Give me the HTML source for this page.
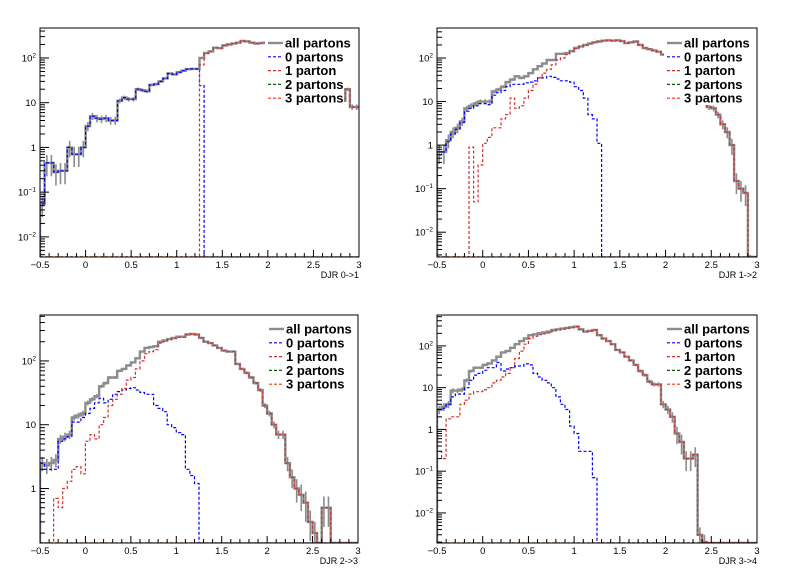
<!DOCTYPE html>
<html><head><meta charset="utf-8">
<style>
html,body{margin:0;padding:0;background:#fff;}
svg{display:block;font-family:"Liberation Sans",Arial,sans-serif;}
</style></head>
<body>
<svg id="c" width="796" height="572" viewBox="0 0 796 572" xmlns="http://www.w3.org/2000/svg"></svg>
<script>
// Bins: 70 bins of width 0.05 from -0.5 to 3.0
const binLow = -0.5, binWidth = 0.05;
const categories = ["DJR 0->1","DJR 1->2","DJR 2->3","DJR 3->4"];
const legendLabels = ["all partons","0 partons","1 parton","2 partons","3 partons"];
const xTickLabels = ["-0.5","0","0.5","1","1.5","2","2.5","3"];

const all01 = [0.055,0.45,0.45,0.28,0.3,0.3,1.0,0.7,0.7,1.0,3,5,4.5,4.3,4.5,4,4,11,13,12,12,20,19,18,25,26,30,35,45,43,48,52,56,57,57,100,130,140,170,165,190,200,210,220,240,235,220,210,215,220,200,190,170,150,130,110,90,75,60,48,38,30,25,20,16,13,11,20,8,8];
const p0_01 = [0.055,0.45,0.45,0.28,0.3,0.3,1.0,0.7,0.7,1.0,3,5,4.5,4.3,4.5,4,4,11,13,12,12,20,19,18,25,26,30,35,45,43,48,52,56,57,57,24,0,0,0,0,0,0,0,0,0,0,0,0,0,0,0,0,0,0,0,0,0,0,0,0,0,0,0,0,0,0,0,0,0,0];
const p1_01 = [0,0,0,0,0,0,0,0,0,0,0,0,0,0,0,0,0,0,0,0,0,0,0,0,0,0,0,0,0,0,0,0,0,0,0,70,125,140,170,165,190,200,210,220,240,235,220,210,215,220,200,190,170,150,130,110,90,75,60,48,38,30,25,20,16,13,11,20,8,8];

const all12 = [0.7,0.7,1.3,2,2.5,3.5,7,8,9,10,10,10,17,19,22,28,32,38,35,38,45,55,65,75,90,90,125,125,130,145,170,185,200,215,230,240,250,255,250,255,245,220,230,240,200,170,160,150,140,120,100,80,60,45,35,25,18,14,10,7.5,7,5,3,2,1,0.15,0.1,0.08,0.002,0];
const p0_12 = [0.6,0.7,1.2,1.8,2.3,3.3,6,7,8,9,9,8.5,14,16,18,22,25,25,25,27,28,30,35,35,38,36,33,30,30,28,22,18,12,5,4,1.1,0,0,0,0,0,0,0,0,0,0,0,0,0,0,0,0,0,0,0,0,0,0,0,0,0,0,0,0,0,0,0,0,0,0];
const p1_12 = [0,0,0,0,0,0,0,0.9,0.05,0.35,1.1,1.5,2.5,2.5,4,5,12,7,8,12,18,25,35,45,55,70,90,100,120,140,165,180,195,212,228,240,250,255,250,255,245,220,230,240,200,170,160,150,140,120,100,80,60,45,35,25,18,14,10,7.5,7,5,3,2,1,0.15,0.1,0.08,0.002,0];

const all23 = [2.5,2.3,2.5,2.8,6,6.5,7,13,14,15,22,25,28,40,45,55,55,70,75,85,95,110,140,160,165,170,200,210,220,230,240,240,260,265,260,230,200,190,175,160,145,140,140,90,75,65,55,45,35,20,15,10,7,7,2.5,1.5,1.0,0.8,0.6,0.3,0.2,0,0.5,0.5,0,0,0,0,0,0];
const p0_23 = [2.5,2,2,2,5.5,6,6.5,11,11,13,15,18,22,26,22,25,30,33,35,37,38,35,32,30,30,20,18,16,10,9,7.5,7,2,1.6,1.2,0,0,0,0,0,0,0,0,0,0,0,0,0,0,0,0,0,0,0,0,0,0,0,0,0,0,0,0,0,0,0,0,0,0,0];
const p1_23 = [0,0,0,0.7,0.5,1,1.3,2,2.2,1.7,5.5,7,6,10,13,20,25,30,37,50,55,75,100,130,140,150,190,200,215,225,235,235,258,265,260,230,200,190,175,160,145,140,140,90,75,65,55,45,35,20,15,10,7,7,2.5,1.5,1.0,0.8,0.6,0.3,0.2,0,0.5,0.5,0,0,0,0,0,0];

const all34 = [3,3.5,4,8.5,8.5,9,15,25,30,30,35,38,45,55,70,75,90,110,130,150,180,190,200,210,220,240,250,260,270,280,290,250,220,230,240,180,150,130,110,80,70,55,45,35,25,20,14,12,12,4,3,2,0.8,0.5,0.2,0.2,0.25,0.003,0.002,0,0,0,0,0,0,0,0,0,0,0];
const p0_34 = [3,3.2,4,6,7,7,10,15,20,22,26,30,30,40,25,28,30,33,33,37,35,22,18,15,13,10,6,4,3,1.2,0.8,0.3,0.3,0.3,0.07,0,0,0,0,0,0,0,0,0,0,0,0,0,0,0,0,0,0,0,0,0,0,0,0,0,0,0,0,0,0,0,0,0,0,0];
const p1_34 = [0.3,0.2,1.8,2,2,4,5,7,8,8,9,10,13,15,18,22,30,50,75,110,150,170,185,195,205,225,240,250,265,275,290,250,220,230,240,180,150,130,110,80,70,55,45,35,25,20,14,12,12,4,3,2,0.8,0.5,0.2,0.2,0.25,0.003,0.002,0,0,0,0,0,0,0,0,0,0,0];

const panels = [
  {x0:40,x1:359,y0:28,y1:257,lmin:-2.45,lmax:2.67,dec:[-2,-1,0,1,2],all:all01,p0:p0_01,p1:p1_01,leg:{x:265,y:35,w:79,h:70,ly:43,gap:13.8},title:categories[0]},
  {x0:437,x1:757,y0:28,y1:257,lmin:-2.57,lmax:2.69,dec:[-2,-1,0,1,2],all:all12,p0:p0_12,p1:p1_12,leg:{x:664,y:35,w:93,h:70,ly:43,gap:13.8},title:categories[1]},
  {x0:40,x1:358,y0:315,y1:543,lmin:-0.854,lmax:2.72,dec:[0,1,2],all:all23,p0:p0_23,p1:p1_23,leg:{x:266,y:322,w:92,h:70,ly:329,gap:13.8},title:categories[2]},
  {x0:437,x1:757,y0:315,y1:543,lmin:-2.72,lmax:2.74,dec:[-2,-1,0,1,2],all:all34,p0:p0_34,p1:p1_34,leg:{x:664,y:322,w:93,h:70,ly:329,gap:13.8},title:categories[3]}
];

const NS="http://www.w3.org/2000/svg";
const svg=document.getElementById('c');
function mk(tag,attrs,parent){const e=document.createElementNS(NS,tag);for(const k in attrs)e.setAttribute(k,attrs[k]);(parent||svg).appendChild(e);return e;}

panels.forEach((P,pi)=>{
  const g=mk('g',{});
  
  
  const xs=v=>P.x0+(v-binLow)/3.5*(P.x1-P.x0);
  const ys=v=>{ if(!(v>0)) return P.y1; const l=Math.log10(v); const y=P.y1-(l-P.lmin)/(P.lmax-P.lmin)*(P.y1-P.y0); return Math.max(P.y0,Math.min(P.y1,y)); };
  const clipId='clip'+pi;
  const cp=mk('clipPath',{id:clipId},g);
  mk('rect',{x:P.x0,y:P.y0,width:P.x1-P.x0,height:P.y1-P.y0},cp);
  function hist(arr,stroke,w,dash,name){
    let d='M'+xs(binLow)+' '+P.y1;
    arr.forEach((v,i)=>{const xb=xs(binLow+(i+1)*binWidth),y=ys(v);d+=' V'+y.toFixed(1)+' H'+xb.toFixed(1);});
    const p=mk('path',{d:d,fill:'none',stroke:stroke,'stroke-width':w,'clip-path':'url(#'+clipId+')'},g);
    if(dash)p.setAttribute('stroke-dasharray',dash);
    
    
    return p;
  }
  hist(P.all,'#8c8c8c',2.4,null,'all-partons-hist');
  const eg=mk('g',{'clip-path':'url(#'+clipId+')'},g);
  
  
  P.all.forEach((v,i)=>{ if(!(v>0)) return; const xc=xs(binLow+(i+0.5)*binWidth); const r=Math.min(0.5,0.8/Math.sqrt(v*4)); const ya=ys(v*(1+r)), yb=ys(Math.max(v*(1-r),1e-6));
    mk('line',{x1:xc,x2:xc,y1:ya,y2:yb,stroke:'#8c8c8c','stroke-width':1.6},eg); });
  hist(P.p0,'#0000ff',1.2,'3,2','zero-partons-hist');
  hist(P.p1,'#d03030',1.2,'3,2','one-parton-hist');
  const zeros=P.all.map(()=>0);
  hist(zeros,'#006400',1.2,'3,2','two-partons-hist');
  hist(zeros,'#ff3300',1.2,'3,2','three-partons-hist');

  const L=P.leg;
  const lg=mk('g',{},g);
  
  
  mk('rect',{x:L.x,y:L.y,width:L.w,height:L.h,fill:'#fff'},lg);
  const cols=['#8c8c8c','#0000ff','#d03030','#006400','#ff3300'];
  legendLabels.forEach((t,k)=>{
    const y=L.ly+k*L.gap;
    const e=mk('g',{},lg);
    
    
    const ln=mk('line',{x1:L.x+3,x2:L.x+18,y1:y,y2:y,stroke:cols[k],'stroke-width':k==0?2.4:1.2},e);
    if(k>0) ln.setAttribute('stroke-dasharray','3,2');
    const tx=mk('text',{x:L.x+20,y:y+4.5,'font-size':13,'font-weight':'bold',fill:'#000'},e);
    tx.textContent=t;
  });

  mk('rect',{x:P.x0,y:P.y0,width:P.x1-P.x0,height:P.y1-P.y0,fill:'none',stroke:'#000','stroke-width':1},g);

  const xa=mk('g',{},g);
  
  
  for(let k=0;k<=35;k++){const v=-0.5+k*0.1;const x=xs(v);const major=(k%5==0);
    mk('line',{x1:x,x2:x,y1:P.y1,y2:P.y1-(major?7:4),stroke:'#000','stroke-width':1},xa);}
  xTickLabels.forEach((t,k)=>{const x=xs(-0.5+k*0.5);const tx=mk('text',{x:x,y:P.y1+11,'font-size':9.5,'text-anchor':'middle',fill:'#000'},xa);tx.textContent=t.replace('-','\u2212');});
  const tt=mk('text',{x:P.x1,y:P.y1+21,'font-size':9,'text-anchor':'end',fill:'#000'},xa);
  tt.textContent=P.title;
  
  

  const ya=mk('g',{},g);
  
  
  for(let d=Math.floor(P.lmin);d<=Math.ceil(P.lmax);d++){
    for(let m=1;m<=9;m++){const l=d+Math.log10(m); if(l<P.lmin||l>P.lmax) continue;
      const y=P.y1-(l-P.lmin)/(P.lmax-P.lmin)*(P.y1-P.y0);
      mk('line',{x1:P.x0,x2:P.x0+(m==1?9:5),y1:y,y2:y,stroke:'#000','stroke-width':1},ya);}
  }
  P.dec.forEach(d=>{const y=P.y1-(d-P.lmin)/(P.lmax-P.lmin)*(P.y1-P.y0);
    const tx=mk('text',{x:P.x0-4,y:y+3.5,'font-size':9.5,'text-anchor':'end',fill:'#000'},ya);
    if(d==0) tx.textContent='1'; else if(d==1) tx.textContent='10';
    else { tx.appendChild(document.createTextNode('10')); const s=mk('tspan',{'font-size':6.5,dy:-4},tx); s.textContent=(d<0?'\u2212':'')+Math.abs(d); }
  });
});
</script>
</body></html>
